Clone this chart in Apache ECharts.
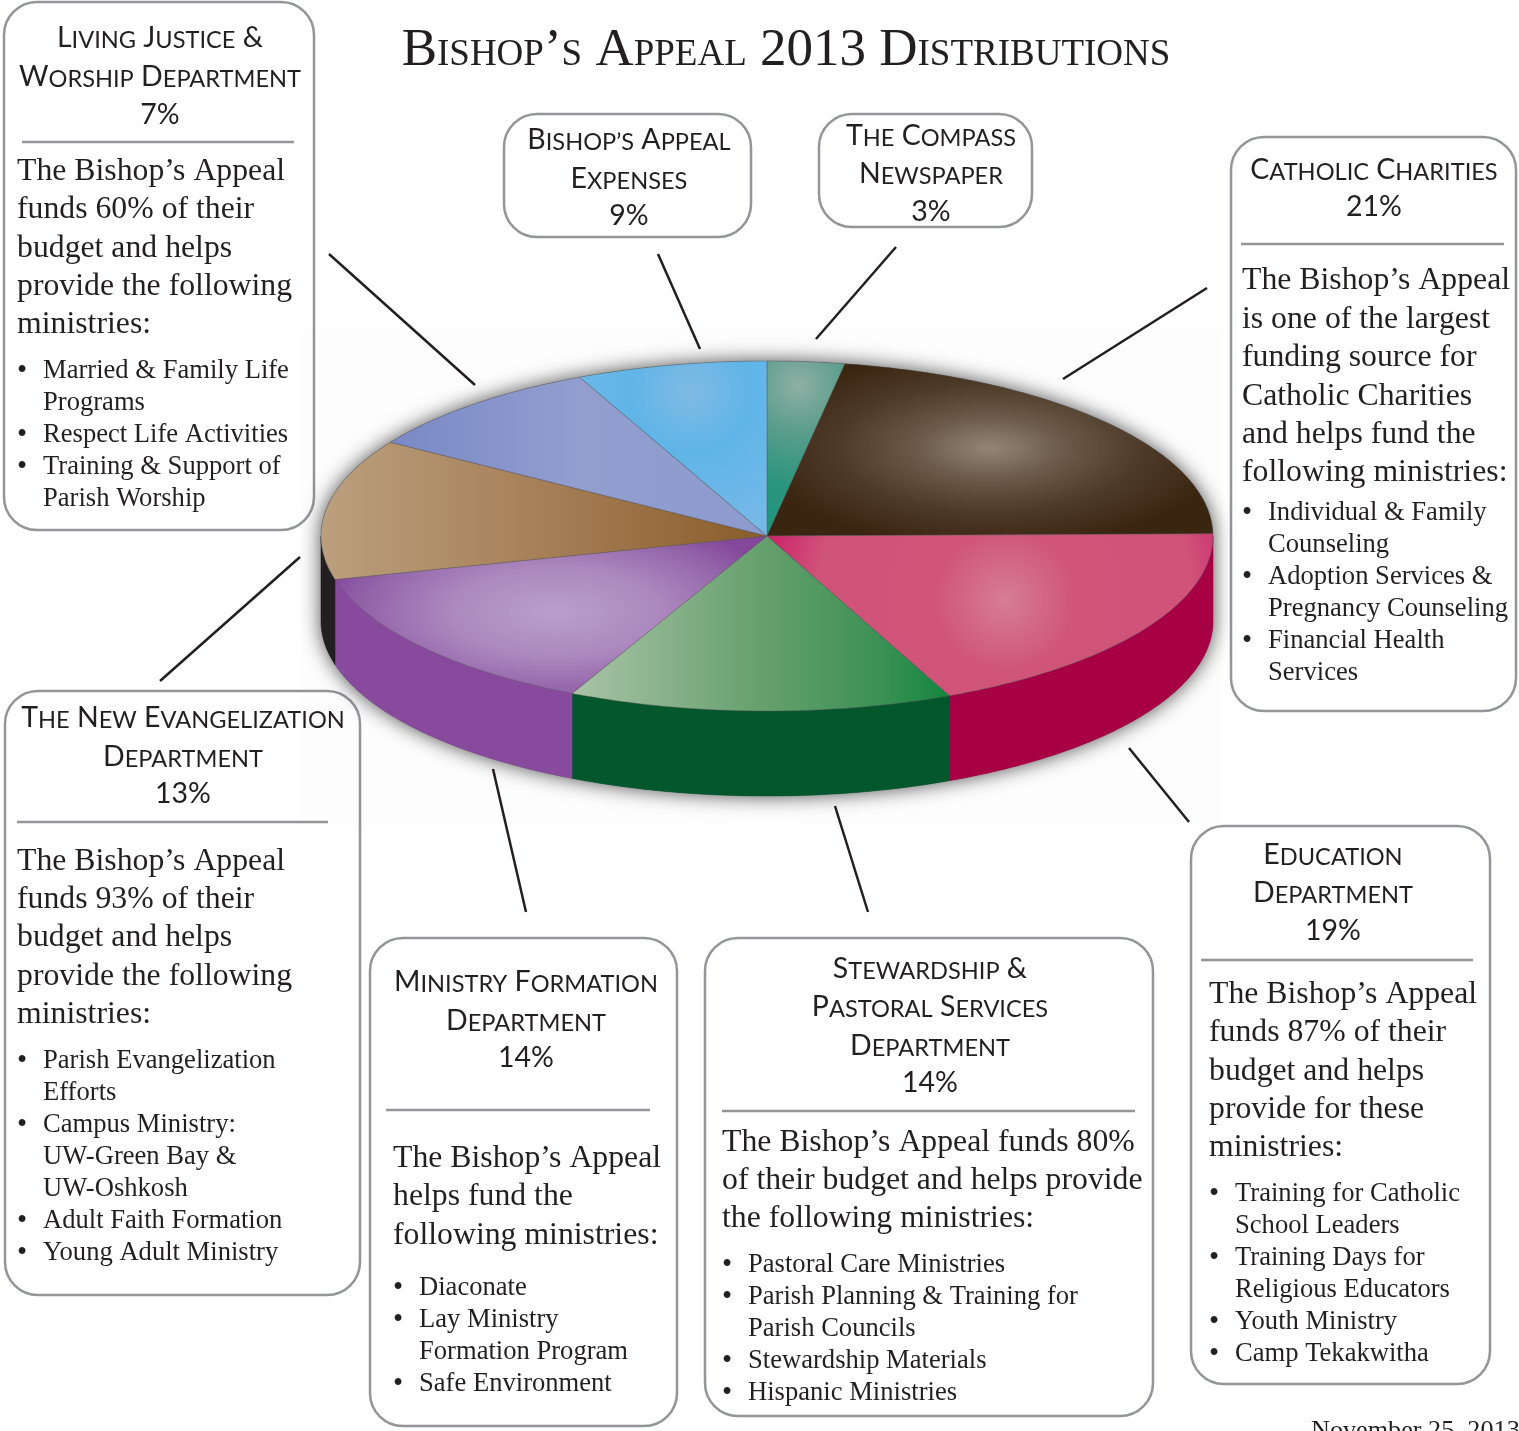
<!DOCTYPE html>
<html><head><meta charset="utf-8">
<style>html,body{margin:0;padding:0;background:#fff}#c{width:1519px;height:1431px}</style>
<script src="https://cdn.jsdelivr.net/npm/echarts@6/dist/echarts.min.js"></script>
</head><body><div id="c"></div>
<script>
// ---- DATA ----
var titleText = "Bishop\u2019s Appeal 2013 Distributions";
var dateText = "November 25, 2013";
// slices clockwise from 12 o'clock, shares as they are drawn on the disc (percent of the circle)
var sliceNames = ["The Compass Newspaper","Catholic Charities","Education Department","Stewardship & Pastoral Services Department","Ministry Formation Department","The New Evangelization Department","Living Justice & Worship Department","Bishop\u2019s Appeal Expenses"];
var sliceShares = [2.8, 22.0, 18.5, 13.9, 13.8, 13.0, 9.1, 6.9];

var livingHead = ["Living Justice &","Worship Department","7%"];
var livingIntro = ["The Bishop\u2019s Appeal","funds 60% of their","budget and helps","provide the following","ministries:"];
var livingList = ["*Married & Family Life","Programs","*Respect Life Activities","*Training & Support of","Parish Worship"];
var expensesHead = ["Bishop\u2019s Appeal","Expenses","9%"];
var compassHead = ["The Compass","Newspaper","3%"];
var charitiesHead = ["Catholic Charities","21%"];
var charitiesIntro = ["The Bishop\u2019s Appeal","is one of the largest","funding source for","Catholic Charities","and helps fund the","following ministries:"];
var charitiesList = ["*Individual & Family","Counseling","*Adoption Services &","Pregnancy Counseling","*Financial Health","Services"];
var evangHead = ["The New Evangelization","Department","13%"];
var evangIntro = ["The Bishop\u2019s Appeal","funds 93% of their","budget and helps","provide the following","ministries:"];
var evangList = ["*Parish Evangelization","Efforts","*Campus Ministry:","UW-Green Bay &","UW-Oshkosh","*Adult Faith Formation","*Young Adult Ministry"];
var ministryHead = ["Ministry Formation","Department","14%"];
var ministryIntro = ["The Bishop\u2019s Appeal","helps fund the","following ministries:"];
var ministryList = ["*Diaconate","*Lay Ministry","Formation Program","*Safe Environment"];
var stewardHead = ["Stewardship &","Pastoral Services","Department","14%"];
var stewardIntro = ["The Bishop\u2019s Appeal funds 80%","of their budget and helps provide","the following ministries:"];
var stewardList = ["*Pastoral Care Ministries","*Parish Planning & Training for","Parish Councils","*Stewardship Materials","*Hispanic Ministries"];
var eduHead = ["Education","Department","19%"];
var eduIntro = ["The Bishop\u2019s Appeal","funds 87% of their","budget and helps","provide for these","ministries:"];
var eduList = ["*Training for Catholic","School Leaders","*Training Days for","Religious Educators","*Youth Ministry","*Camp Tekakwitha"];

// ---- STYLE / LAYOUT ----
var pie = {cx:767, cy:536, rx:446, ry:175, depth:85};
var wallColors = ["#2A957C","#3A2510","#A80044","#02572D","#874A9C","#231F20","#7A8AC5","#56B3E6"];
var radial = function(r, stops){return new echarts.graphic.RadialGradient(0,0,r,stops.map(function(s){return {offset:s[0],color:s[1]};}),true);};
var linear = function(x0,x1,stops){return new echarts.graphic.LinearGradient(x0,0,x1,0,stops.map(function(s){return {offset:s[0],color:s[1]};}),true);};
// each top face: highlight centre, vertical squash and fill (drawn in the highlight's local frame)
var faces = [
 {hx:798,hy:385,k:1,   fill:radial(135,[[0,"#8FB0A4"],[0.35,"#5A9D8B"],[0.75,"#2A957E"],[1,"#23957D"]])},
 {hx:990,hy:448,k:0.42,fill:radial(235,[[0,"#938676"],[0.3,"#6D5C4B"],[0.65,"#4D3A28"],[1,"#3A2510"]])},
 {hx:1005,hy:600,k:1,  fill:radial(235,[[0,"#D67D95"],[0.3,"#D05578"],[0.8,"#D0537A"],[1,"#CC2A6C"]])},
 {hx:573,hy:0,k:1,     fill:linear(0,375,[[0,"#A9C3A6"],[0.5,"#66A06E"],[0.8,"#3F9257"],[1,"#13873F"]])},
 {hx:555,hy:612,k:0.42,fill:radial(240,[[0,"#BA9FCD"],[0.45,"#AB87BD"],[0.8,"#9263A9"],[1,"#84479B"]])},
 {hx:322,hy:0,k:1,     fill:linear(0,445,[[0,"#BB9F7E"],[0.5,"#A67F57"],[1,"#8A5C2A"]])},
 {hx:392,hy:0,k:1,     fill:linear(0,375,[[0,"#7989C5"],[0.5,"#929ED0"],[1,"#8C9ACD"]])},
 {hx:690,hy:392,k:1,   fill:radial(150,[[0,"#80BAE5"],[0.4,"#5FB5E7"],[1,"#76B9E8"]])}
];
var boxes = [
 {r:[4,2,310,528],   cx:160, head:livingHead, headY:[36,75,113], rule:[22,294,142], tx:17, intro:livingIntro, introY:[172,210,249,287,325], lx:43, list:livingList, listY:371},
 {r:[504,114,247,123], cx:629, head:expensesHead, headY:[138,177,214]},
 {r:[819,114,213,113], cx:931, head:compassHead, headY:[134,172,210]},
 {r:[1231,137,285,574],cx:1374, head:charitiesHead, headY:[168,205], rule:[1241,1504,244], tx:1242, intro:charitiesIntro, introY:[281,320,358,397,435,473], lx:1268, list:charitiesList, listY:513},
 {r:[5,691,355,604], cx:183, head:evangHead, headY:[716,755,792], rule:[17,328,822], tx:17, intro:evangIntro, introY:[862,900,938,977,1015], lx:43, list:evangList, listY:1061},
 {r:[370,938,307,488],cx:526, head:ministryHead, headY:[980,1019,1056], rule:[386,650,1110], tx:393, intro:ministryIntro, introY:[1159,1197,1236], lx:419, list:ministryList, listY:1288},
 {r:[705,938,448,478],cx:930, head:stewardHead, headY:[967,1005,1044,1081], rule:[722,1135,1111], tx:722, intro:stewardIntro, introY:[1143,1181,1219], lx:748, list:stewardList, listY:1265},
 {r:[1191,826,299,558],cx:1333, head:eduHead, headY:[853,891,929], rule:[1201,1473,960], tx:1209, intro:eduIntro, introY:[995,1033,1072,1110,1148], lx:1235, list:eduList, listY:1194}
];
var leaders = [[329,254,475,385],[658,254,700,349],[896,247,816,339],[1207,288,1063,379],[300,557,160,681],[493,769,526,912],[835,806,868,912],[1129,748,1189,822]];
var SERIF='"Liberation Serif"', SANS='Lato', INK='#231F20', BOX='#939598';

// small-capital heading as rich text: lower-case runs are set as smaller capitals
function capsRich(s){
  return s.replace(/[a-z\u2019]+|[^a-z\u2019]+/g,function(run){
    return /[a-z]/.test(run)||run==='\u2019' ? '{s|'+run.toUpperCase()+'}' : '{b|'+run+'}';
  });
}
var capsStyles={
  b:{fontFamily:SANS,fontSize:28.5,lineHeight:32,fill:INK,color:INK,verticalAlign:'bottom'},
  s:{fontFamily:SANS,fontSize:23.6,lineHeight:28,fill:INK,color:INK,verticalAlign:'bottom'}
};

var G=[];
G.push({type:'rect',z:0,shape:{x:301,y:330,width:921,height:495},style:{fill:'#FDFDFD'},silent:true});
leaders.forEach(function(l){G.push({type:'line',shape:{x1:l[0],y1:l[1],x2:l[2],y2:l[3]},style:{stroke:INK,lineWidth:2.5},silent:true});});
function txt(s,x,y,font,align){G.push({type:'text',silent:true,style:{text:s,x:x,y:y,font:font,fill:INK,align:align||'left',verticalAlign:'middle'}});}
boxes.forEach(function(b){
  G.push({type:'rect',shape:{x:b.r[0],y:b.r[1],width:b.r[2],height:b.r[3],r:33},style:{fill:'transparent',stroke:BOX,lineWidth:2.5},silent:true});
  b.head.forEach(function(s,i){
    G.push({type:'text',silent:true,style:{text:capsRich(s),rich:capsStyles,x:b.cx,y:b.headY[i],fill:INK,align:'center',verticalAlign:'middle'}});
  });
  if(b.rule)G.push({type:'line',shape:{x1:b.rule[0],y1:b.rule[2],x2:b.rule[1],y2:b.rule[2]},style:{stroke:BOX,lineWidth:2.5},silent:true});
  if(b.intro)b.intro.forEach(function(s,i){txt(s,b.tx,b.introY[i],'400 31.75px '+SERIF);});
  if(b.list)b.list.forEach(function(s,i){
    var y=b.listY+i*32, isB=s.charAt(0)==='*';
    if(isB)txt('\u2022',b.lx-26,y,'400 29px '+SERIF);
    txt(isB?s.slice(1):s,b.lx,y,'400 26.6px '+SERIF);
  });
});
txt(titleText,786,51,'small-caps 400 53px '+SERIF,'center');
txt(dateText,1311,1431,'400 26.2px '+SERIF);

function pt(aDeg,dy){var a=aDeg*Math.PI/180;return [pie.cx+pie.rx*Math.sin(a),pie.cy+(dy||0)-pie.ry*Math.cos(a)];}
function arc(a0,a1,dy){var n=Math.max(2,Math.ceil(Math.abs(a1-a0))),o=[];for(var i=0;i<=n;i++)o.push(pt(a0+(a1-a0)*i/n,dy));return o;}
function renderSlice(params,api){
  var i=params.dataIndex, total=0, before=0;
  sliceShares.forEach(function(v,j){total+=v; if(j<i)before+=v;});
  var a0=before/total*360, a1=(before+api.value(0))/total*360, kids=[];
  if(i===0){
    kids.push({type:'polygon',shape:{points:arc(-90,90,0).concat(arc(90,270,pie.depth))},style:{fill:'#555',shadowBlur:20,shadowColor:'rgba(0,0,0,0.7)'}});
  }
  var w0=Math.max(a0,90), w1=Math.min(a1,270);
  if(w1>w0){
    kids.push({type:'polygon',shape:{points:arc(w0,w1,0).concat(arc(w1,w0,pie.depth))},style:{fill:wallColors[i],stroke:wallColors[i],lineWidth:0.5}});
  }
  var f=faces[i];
  var pts=[[pie.cx,pie.cy]].concat(arc(a0,a1,0)).map(function(p){return [p[0]-f.hx,(p[1]-f.hy)/f.k];});
  kids.push({type:'polygon',x:f.hx,y:f.hy,scaleX:1,scaleY:f.k,shape:{points:pts},style:{fill:f.fill,stroke:'rgba(90,90,90,0.55)',lineWidth:0.8,strokeNoScale:true}});
  return {type:'group',children:kids};
}
var chart=echarts.init(document.getElementById('c'),null,{renderer:'canvas'});
chart.setOption({
  animation:false,backgroundColor:'#fff',
  graphic:{elements:G},
  series:[{type:'custom',coordinateSystem:'none',silent:true,renderItem:renderSlice,
    data:sliceShares.map(function(v,i){return {name:sliceNames[i],value:[v]};})}]
});
</script></body></html>
